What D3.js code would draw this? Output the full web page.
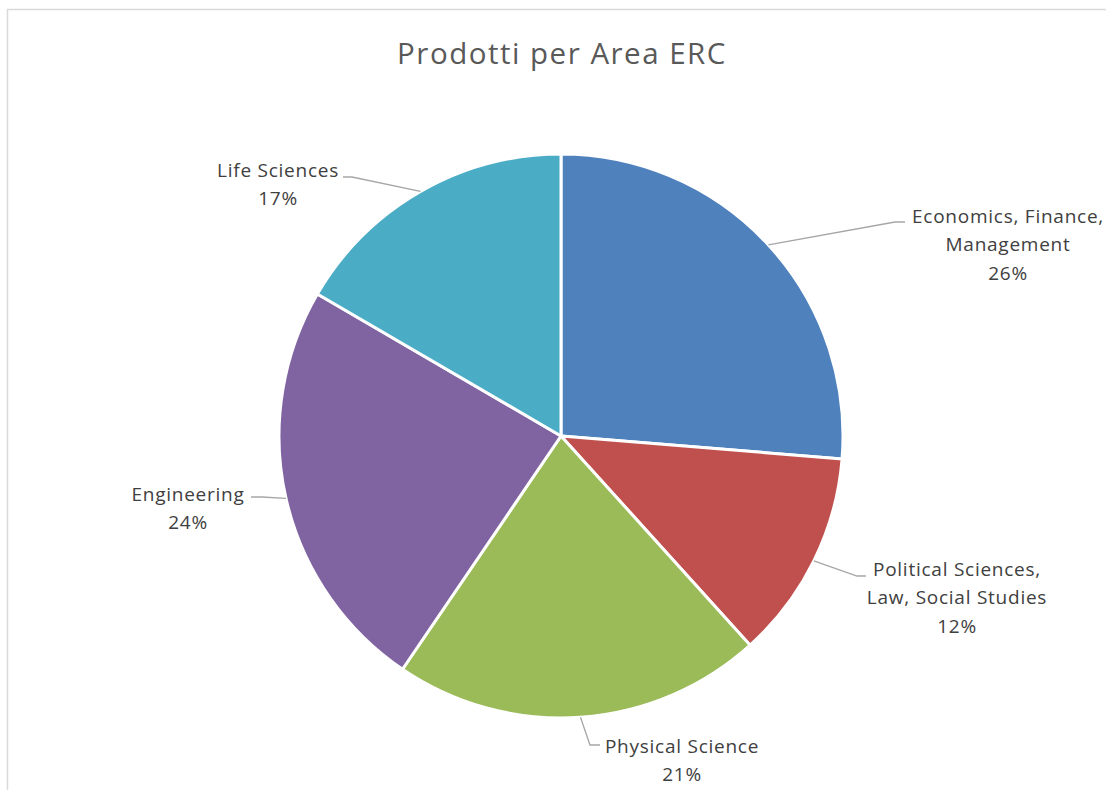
<!DOCTYPE html>
<meta charset="utf-8">
<style>
body { margin: 0; background: #fff; }
text { font-family: "Open Sans", Lato, Arial, sans-serif; }
.title { fill: #595959; font-size: 29.5px; letter-spacing: 1.5px; }
.lbl { fill: #404040; font-size: 19px; letter-spacing: 0.75px; }
.leader { fill: none; stroke: #a6a6a6; stroke-width: 1.3px; }
</style>

<svg width="1106" height="790"></svg>

<script src="https://d3js.org/d3.v7.min.js"></script>
<script>

// dati
var aree = ["Economics, Finance, Management", "Political Sciences, Law, Social Studies",
            "Physical Science", "Engineering", "Life Sciences"];
var valori = [26.3, 12.0, 21.2, 23.9, 16.6];
var righe = [["Economics, Finance,", "Management"],
             ["Political Sciences,", "Law, Social Studies"],
             ["Physical Science"],
             ["Engineering"],
             ["Life Sciences"]];
var colori = ["#4f81bd", "#c0504d", "#9bbb59", "#8064a2", "#4bacc6"];

// posizione etichette (centro testo, prima riga) e gomito della linea guida
var posEtichette = [
  {x: 1008, y: 216, gx: 895, gy: 222, ex: 905},
  {x: 957,  y: 569, gx: 857, gy: 576, ex: 866},
  {x: 682,  y: 746, gx: 590, gy: 745, ex: 600},
  {x: 188,  y: 494, gx: 262, gy: 497, ex: 251},
  {x: 278,  y: 170, gx: 352, gy: 177, ex: 343}
];

var svg = d3.select("svg"),
    width = +svg.attr("width"),
    height = +svg.attr("height");

// bordo area grafico
svg.append("rect")
    .attr("x", 7.5).attr("y", 9.5)
    .attr("width", width + 10).attr("height", height + 10)
    .attr("fill", "none").attr("stroke", "#d9d9d9").attr("stroke-width", 1.5);

svg.append("text")
    .attr("class", "title")
    .attr("x", 562).attr("y", 64)
    .attr("text-anchor", "middle")
    .text("Prodotti per Area ERC");

var cx = 561, cy = 436, r = 282;
var totale = d3.sum(valori);

var pie = d3.pie().sort(null).value(d => d);
var arc = d3.arc().innerRadius(0).outerRadius(r);
var archi = pie(valori);

var g = svg.append("g").attr("transform", "translate(" + cx + "," + cy + ")");

g.selectAll("path.fetta")
  .data(archi)
  .enter()
  .append("path")
    .attr("class", "fetta")
    .attr("d", arc)
    .attr("fill", (d, i) => colori[i])
    .attr("stroke", "#fff")
    .attr("stroke-width", 3)
    .attr("stroke-linejoin", "round");

// linee guida
svg.selectAll("path.leader")
  .data(archi)
  .enter()
  .append("path")
    .attr("class", "leader")
    .attr("d", (d, i) => {
      var a = (d.startAngle + d.endAngle) / 2,
          p = posEtichette[i];
      var x0 = cx + r * Math.sin(a), y0 = cy - r * Math.cos(a);
      return "M" + x0 + "," + y0 + "L" + p.gx + "," + p.gy + "L" + p.ex + "," + p.gy;
    });

// etichette
var lh = 28.5;
var et = svg.selectAll("text.lbl")
  .data(archi)
  .enter()
  .append("text")
    .attr("class", "lbl")
    .attr("text-anchor", "middle")
    .attr("x", (d, i) => posEtichette[i].x)
    .attr("y", (d, i) => posEtichette[i].y);

et.each(function(d, i) {
  var t = d3.select(this);
  var linee = righe[i].concat([Math.round(d.value / totale * 100) + "%"]);
  linee.forEach((s, k) => {
    t.append("tspan")
        .attr("x", posEtichette[i].x)
        .attr("dy", k === 0 ? "0.35em" : lh)
        .text(s);
  });
});

</script>
